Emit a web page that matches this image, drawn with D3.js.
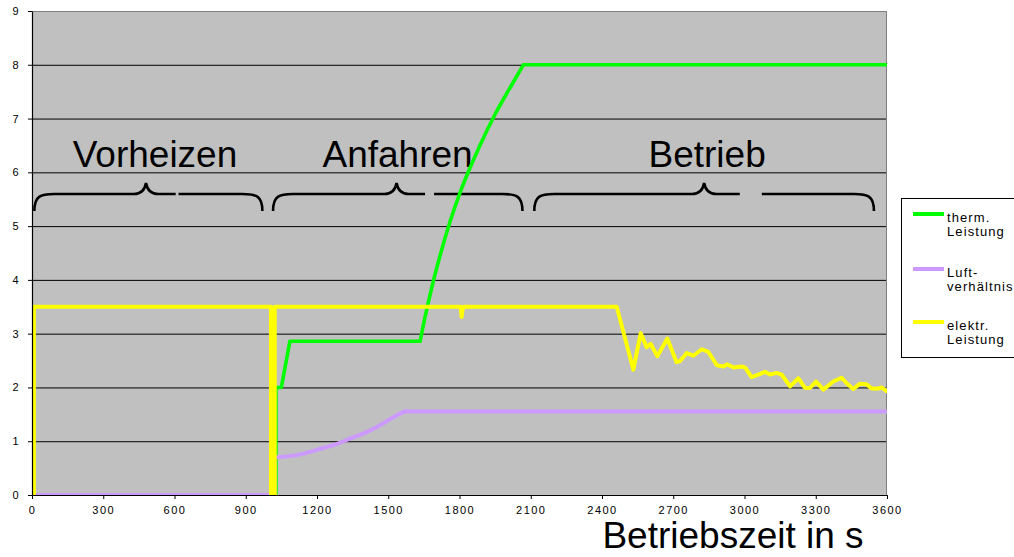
<!DOCTYPE html>
<html><head><meta charset="utf-8">
<script src="https://cdn.jsdelivr.net/npm/d3@7"></script>
<style>
html,body{margin:0;padding:0;background:#fff;}
svg{display:block;font-family:"Liberation Sans",Arial,sans-serif;}
</style></head>
<body><svg id="chart" width="1014" height="557"></svg>
<script>
// ---- data ----
const xTicks = [0,300,600,900,1200,1500,1800,2100,2400,2700,3000,3300,3600];
const yTicks = [0,1,2,3,4,5,6,7,8,9];
const seriesNames = ["therm. Leistung","Luft- verhältnis","elektr. Leistung"];
// therm. Leistung: straight part, smooth rise, top plateau
const thermT = [1027,1027,1050,1086,1634];
const thermV = [0,2,2,2.86,2.86];
const thermRiseT = [1634,1662,1690,1718,1760,1802,1844,1886,1950,2027,2069];
const thermRiseV = [2.86,3.45,3.98,4.45,5.08,5.62,6.08,6.50,7.08,7.68,8.0];
const thermTopT = [2069,3600];
const thermTopV = [8.0,8.0];
// Luftverhältnis: zero part, smooth rise, plateau
const luftT = [0,1008,1022,1022];
const luftV = [0,0,0,0.70];
const luftRiseT = [1022,1128,1199,1290,1339,1409,1478,1535,1570];
const luftRiseV = [0.70,0.75,0.84,0.96,1.05,1.17,1.33,1.48,1.555];
const luftTopT = [1570,3600];
const luftTopV = [1.555,1.555];
// elektr. Leistung
const elekT = [0,8,8,1006,1006,1022,1022,1805,1809,1813,1818,2462,2532,2563,2588,2605,2633,2675,2714,2728,2757,2785,2820,2848,2884,2912,2926,2954,2988,3003,3030,3058,3086,3107,3135,3156,3192,3227,3255,3276,3301,3332,3374,3409,3430,3458,3486,3514,3535,3563,3577,3598,3600];
const elekV = [0,0,3.5,3.5,0,0,3.5,3.5,3.31,3.45,3.5,3.5,2.33,3.01,2.75,2.81,2.58,2.91,2.47,2.49,2.64,2.59,2.71,2.66,2.41,2.39,2.43,2.37,2.39,2.37,2.19,2.24,2.29,2.24,2.27,2.24,2.02,2.17,1.99,1.99,2.11,1.96,2.11,2.18,2.08,1.97,2.07,2.06,1.98,1.98,2.0,1.93,1.93];
const phaseNames = ["Vorheizen","Anfahren","Betrieb"];
const phaseStart = [10,1015,2115];
const phaseEnd = [970,2065,3545];
const phaseTip = [480,1535,2830];
const phaseGapStart = [605,1655,2980];
const phaseGapEnd = [617,1693,3073];
const axisTitle = "Betriebszeit in s";

// ---- layout ----
const svg = d3.select("#chart");
const L=32, R=887, T=11, B=495;
const x = d3.scaleLinear().domain([0,3600]).range([L,R]);
const y = d3.scaleLinear().domain([0,9]).range([B,T]);

svg.append("rect").attr("x",L).attr("y",T).attr("width",R-L).attr("height",B-T).attr("fill","#C0C0C0");
svg.append("defs").append("clipPath").attr("id","clip")
  .append("rect").attr("x",L).attr("y",T).attr("width",R-L).attr("height",B-T);

// grid
svg.append("g").selectAll("line").data(yTicks.filter(d=>d>0&&d<9)).join("line")
  .attr("x1",L).attr("x2",R).attr("y1",d=>y(d)+0.5).attr("y2",d=>y(d)+0.5)
  .attr("stroke","#000").attr("stroke-width",1);
svg.append("line").attr("x1",L).attr("x2",R).attr("y1",T+0.5).attr("y2",T+0.5).attr("stroke","#808080");
svg.append("line").attr("x1",R-0.5).attr("x2",R-0.5).attr("y1",T).attr("y2",B).attr("stroke","#808080");

// braces and phase labels
const bTip=183, bBar=194, bEnd=211;
phaseNames.forEach((name,i)=>{
  const x1=x(phaseStart[i]), x2=x(phaseEnd[i]), xm=x(phaseTip[i]);
  const g1=x(phaseGapStart[i]), g2=x(phaseGapEnd[i]);
  const pts = `M${x1},${bEnd} C${x1},${bBar+2} ${x1+6},${bBar} ${x1+20},${bBar} L${xm-12},${bBar} Q${xm-2},${bBar} ${xm},${bTip} Q${xm+2},${bBar} ${xm+12},${bBar} L${x2-20},${bBar} C${x2-6},${bBar} ${x2},${bBar+2} ${x2},${bEnd}`;
  svg.append("path").attr("d",pts).attr("fill","none").attr("stroke","#000").attr("stroke-width",2.6);
  svg.append("rect").attr("x",g1).attr("y",bBar-3).attr("width",g2-g1).attr("height",6).attr("fill","#C0C0C0");
  svg.append("text").attr("x",x(phaseTip[i])+ (i===0?9:(i===1?1:3))).attr("y",167).attr("text-anchor","middle")
    .attr("font-size",37).attr("fill","#000").text(name);
});

// lines
const line = d3.line().x(d=>x(d[0])).y(d=>y(d[1]));
const smooth = d3.line().x(d=>x(d[0])).y(d=>y(d[1])).curve(d3.curveMonotoneX);
const zip = (a,b)=>a.map((t,i)=>[t,b[i]]);
const lg = svg.append("g").attr("clip-path","url(#clip)");
const colors = ["#00FF00","#CC99FF","#FFFF00"];
const widths=[3.6,4,4];
const groups = [
  [[zip(thermT,thermV),line],[zip(thermRiseT,thermRiseV),smooth],[zip(thermTopT,thermTopV),line]],
  [[zip(luftT,luftV),line],[zip(luftRiseT,luftRiseV),smooth],[zip(luftTopT,luftTopV),line]],
  [[zip(elekT,elekV),line]]
];
groups.forEach((parts,i)=>{
  parts.forEach(([d,gen])=>{
    lg.append("path").datum(d).attr("d",gen).attr("fill","none").attr("stroke",colors[i])
      .attr("stroke-width",widths[i]).attr("stroke-linejoin","round").attr("stroke-linecap","round");
  });
});

// axes
const ax = svg.append("g").attr("transform",`translate(0,${B})`)
  .call(d3.axisBottom(x).tickValues(xTicks).tickFormat(d3.format("d")).tickSize(4).tickSizeOuter(0).tickPadding(7));
const ay = svg.append("g").attr("transform",`translate(${L},0)`)
  .call(d3.axisLeft(y).tickValues(yTicks).tickFormat(d3.format("d")).tickSize(4).tickSizeOuter(0).tickPadding(8));
[ax,ay].forEach(a=>{
  a.select(".domain").attr("stroke","#000").attr("stroke-width",1.2);
  a.selectAll(".tick line").attr("stroke","#000");
  a.selectAll("text").attr("font-size",11).attr("fill","#000").attr("font-family","Liberation Sans, Arial, sans-serif").style("letter-spacing","1.5px");
});

svg.append("text").attr("x",733).attr("y",548).attr("text-anchor","middle").attr("font-size",37).attr("fill","#000").text(axisTitle);

// legend
const lgd = svg.append("g");
lgd.append("rect").attr("x",901.5).attr("y",198.5).attr("width",140).attr("height",159).attr("fill","#fff").attr("stroke","#000");
const legY=[214,269,322];
seriesNames.forEach((n,i)=>{
  lgd.append("line").attr("x1",913).attr("x2",944).attr("y1",legY[i]).attr("y2",legY[i]).attr("stroke",colors[i]).attr("stroke-width",4);
  const parts=n.split(" ");
  parts.forEach((p,j)=>{
    lgd.append("text").attr("x",947).attr("y",legY[i]+8+j*13.5).attr("font-size",13).style("letter-spacing","1.1px").attr("fill","#000").text(p);
  });
});
</script></body></html>
